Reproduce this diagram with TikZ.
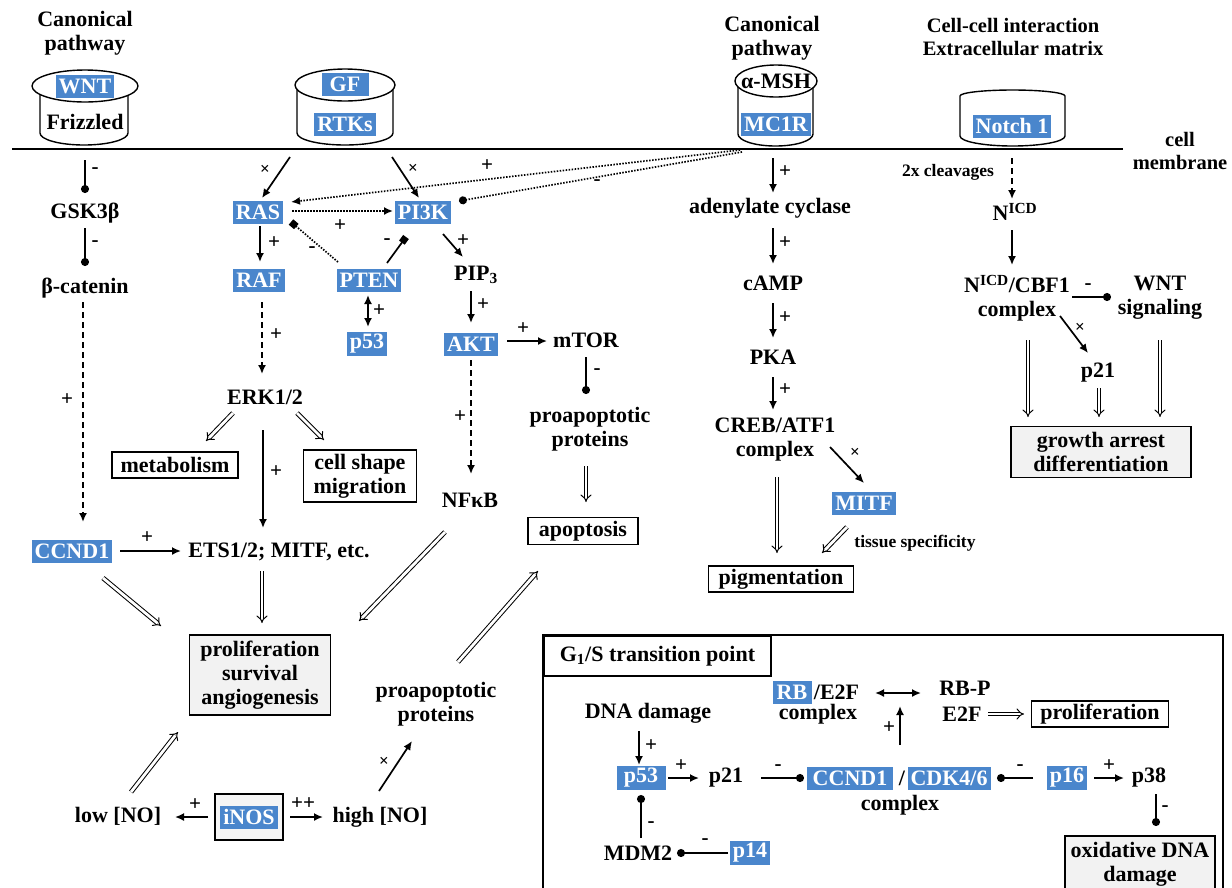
\documentclass[tikz,border=0pt]{standalone}
\usepackage{fontspec}
\setmainfont{Liberation Serif}
\usetikzlibrary{arrows.meta,calc}
\definecolor{bb}{RGB}{74,134,204}
\begin{document}
\begin{tikzpicture}[x=1pt,y=-1pt,
 txt/.style={font=\fontsize{22}{24}\selectfont\bfseries, inner sep=1pt, align=center},
 sml/.style={font=\fontsize{17.5}{20}\selectfont\bfseries, inner sep=1pt},
 lab/.style={font=\fontsize{21}{21}\selectfont\bfseries, inner sep=0pt},
 labx/.style={font=\fontsize{17}{17}\selectfont\bfseries, inner sep=0pt},
 bluebox/.style={txt, fill=bb, text=white, inner xsep=3pt, inner ysep=2pt, minimum height=23pt},
 obox/.style={txt, draw, line width=1.5pt, inner xsep=4pt, inner ysep=2pt, fill=white},
 gbox/.style={obox, fill=gray!10},
 shp/.style={line width=1.4pt, fill=white},
 actarr/.style={line width=1.7pt, -{Latex[length=9pt,width=8pt]}},
 dblarr/.style={line width=1.7pt, {Latex[length=9pt,width=8pt]}-{Latex[length=9pt,width=8pt]}},
 inharr/.style={line width=1.7pt, -{Circle[length=8pt]}},
 sqarr/.style={line width=1.7pt, -{Square[length=7pt,width=7pt]}},
 dotline/.style={line width=2pt, dash pattern=on 1.5pt off 1.5pt},
 dashline/.style={line width=1.7pt, dash pattern=on 6pt off 4pt},
 holarr/.style={double, double distance=2.8pt, line width=1pt, -{Implies[length=6pt]}},
]
\useasboundingbox (0,0) rectangle (1232,887);
\clip (0,0) rectangle (1232,887);
\fill[white] (0,0) rectangle (1232,887);

% membrane
\draw[line width=2.6pt] (12,149) -- (1123,149);

% receptors
\draw[shp] (40,86) -- (40,133) arc[start angle=180, end angle=0, x radius=44, y radius=12] -- (128,86);
\draw[shp] (85,86) ellipse[x radius=53, y radius=16];
\draw[shp] (297,85) -- (297,133) arc[start angle=180, end angle=0, x radius=48, y radius=12] -- (393,85);
\draw[shp] (345,85) ellipse[x radius=50, y radius=16];
\draw[shp] (738,81) -- (738,134) arc[start angle=180, end angle=0, x radius=37.5, y radius=12] -- (813,81);
\draw[shp] (776,81) ellipse[x radius=41, y radius=16];
\draw[shp] (960,96) arc[start angle=180, end angle=360, x radius=52.5, y radius=6]
  -- (1065,136) arc[start angle=0, end angle=180, x radius=52.5, y radius=10] -- cycle;

% top texts
\node[txt] (can1) at (85,33) {Canonical\\pathway};
\node[txt] (can2) at (772,38) {Canonical\\pathway};
\node[txt, font=\fontsize{20.5}{23}\selectfont\bfseries] (cci) at (1013,37) {Cell-cell interaction\\Extracellular matrix};
\node[txt, font=\fontsize{20.5}{23}\selectfont\bfseries] (memb) at (1180,151) {cell\\membrane};

\node[bluebox, minimum width=53pt] (wnt) at (85,86) {WNT};
\node[txt] (friz) at (85,122) {Frizzled};
\node[bluebox, minimum width=47pt] (gf) at (345,84) {GF};
\node[bluebox] (rtks) at (345,124) {RTKs};
\node[txt] (msh) at (776,81) {α-MSH};
\node[bluebox, minimum width=63pt] (mc1r) at (776,124) {MC1R};
\node[bluebox, minimum width=78pt] (notch) at (1012,126) {Notch 1};

% left column
\node[txt] (gsk) at (85,213) {GSK3β};
\node[txt] (bcat) at (85,288) {β-catenin};
\node[bluebox] (ccnd) at (72,551) {CCND1};
\node[txt] (ets) at (279,552) {ETS1/2; MITF, etc.};

% RAS / PI3K
\node[bluebox] (ras) at (258,212) {RAS};
\node[bluebox] (pi3k) at (423,212) {PI3K};
\node[bluebox] (raf) at (259,280) {RAF};
\node[bluebox] (pten) at (369,280) {PTEN};
\node[bluebox] (p53a) at (367,344) {p53};
\node[txt] (pip) at (476,275) {PIP\textsubscript{3}};
\node[bluebox] (akt) at (471,344) {AKT};
\node[txt] (mtor) at (586,340) {mTOR};
\node[txt] (proapo1) at (590,429) {proapoptotic\\proteins};
\node[obox, minimum width=110pt, minimum height=27pt] (apop) at (583,531) {apoptosis};
\node[txt] (nfkb) at (470,500) {NFκB};

\node[txt] (erk) at (265,397) {ERK1/2};
\node[obox, minimum width=126pt, minimum height=26pt] (metab) at (175,465) {metabolism};
\node[obox, minimum width=113pt, minimum height=52pt] (cshape) at (360,476) {cell shape\\migration};

\node[gbox, minimum width=141pt, minimum height=80pt] (prolif) at (260,675) {proliferation\\survival\\angiogenesis};
\node[txt] (proapo2) at (436,704) {proapoptotic\\proteins};
\node[txt] (low) at (118,816) {low [NO]};
\node[draw, line width=1.4pt, fill=gray!8, minimum width=68pt, minimum height=46pt, inner sep=0pt] (inosbox) at (249,817) {};
\node[bluebox] (inos) at (249,817) {iNOS};
\node[txt] (high) at (380,817) {high [NO]};

% cAMP column
\node[txt] (adcy) at (770,208) {adenylate cyclase};
\node[txt] (camp) at (773,283) {cAMP};
\node[txt] (pka) at (773,357) {PKA};
\node[txt] (creb) at (775,440) {CREB/ATF1\\complex};
\node[bluebox, minimum width=62pt] (mitf) at (864,503) {MITF};
\node[sml] (tissue) at (915,543) {tissue specificity};
\node[obox, minimum width=145pt, minimum height=26pt] (pigm) at (781,579) {pigmentation};

% Notch
\node[sml] (cleav) at (948,172) {2x cleavages};
\node[txt] (nicd) at (1015,212) {N\textsuperscript{ICD}};
\node[txt] (cbf) at (1017,298) {N\textsuperscript{ICD}/CBF1\\complex};
\node[txt] (wntsig) at (1160,298) {WNT\\signaling};
\node[txt] (p21a) at (1098,373) {p21};
\node[gbox, minimum width=180pt, minimum height=51pt] (growth) at (1101,452) {growth arrest\\differentiation};

% G1/S box
\draw[line width=2.5pt] (543,635) rectangle (1223,900);
\node[txt, draw, line width=2pt, anchor=north west, minimum width=227pt, minimum height=40pt, inner sep=0pt] (g1s) at (543,635) {G\textsubscript{1}/S transition point};
\node[bluebox, minimum width=39pt] (rb) at (792,692) {RB};
\node[txt, anchor=west] (e2fa) at ($(rb.east)+(1,0)$) {/E2F};
\node[txt] (cx1) at (818,714) {complex};
\node[txt] (rbp) at (965,688) {RB-P};
\node[txt] (e2fb) at (962,714) {E2F};
\node[obox, minimum width=137pt, minimum height=26pt] (prolif2) at (1100,714) {proliferation};
\node[txt] (dnad) at (648,713) {DNA damage};
\node[bluebox, minimum width=49pt] (p53b) at (641,778) {p53};
\node[txt] (p21b) at (726,778) {p21};
\node[bluebox, minimum width=86pt] (ccndb) at (850,778) {CCND1};
\node[txt] (slash) at (902,778) {/};
\node[bluebox, minimum width=78pt] (cdk) at (949,778) {CDK4/6};
\node[txt] (cx2) at (900,805) {complex};
\node[bluebox, minimum width=40pt] (p16) at (1067,778) {p16};
\node[txt] (p38) at (1149,778) {p38};
\node[gbox, minimum width=150pt, minimum height=56pt] (oxid) at (1140,864) {oxidative DNA\\damage};
\node[txt] (mdm2) at (638,853) {MDM2};
\node[bluebox, minimum width=39pt] (p14) at (750,853) {p14};

% ---------- connectors ----------
\draw[inharr] ($(friz)+(0,38)$) -- ($(gsk)+(0,-20)$);
\draw[inharr] ($(gsk)+(0,15)$) -- ($(bcat)+(0,-22)$);
\draw[dashline, actarr] ($(bcat)+(-2,14)$) -- ($(ccnd)+(11,-29)$);
\draw[actarr] ($(ccnd)+(48,0)$) -- ($(ets)+(-98,-1)$);
\draw[actarr] ($(rtks)+(-55,33)$) -- ($(ras)+(4,-14)$);
\draw[actarr] ($(rtks)+(47,33)$) -- ($(pi3k)+(-4,-14)$);
\draw[actarr] ($(ras)+(2,14)$) -- ($(raf)+(1,-18)$);
\draw[dotline, actarr] ($(ras)+(34,-1)$) -- ($(pi3k)+(-30,-1)$);
\draw[dotline, sqarr] ($(pten)+(-31,-18)$) -- ($(ras)+(33,10)$);
\draw[sqarr] ($(pten)+(18,-17)$) -- ($(pi3k)+(-17,25)$);
\draw[actarr] ($(pi3k)+(20,22)$) -- ($(pip)+(-13,-18)$);
\draw[dblarr] ($(pten)+(-1,15)$) -- ($(p53a)+(1,-17)$);
\draw[actarr] ($(pip)+(-5,16)$) -- ($(akt)+(0,-21)$);
\draw[actarr] ($(akt)+(36,-3)$) -- ($(mtor)+(-39,1)$);
\draw[inharr] ($(mtor)+(0,17)$) -- ($(proapo1)+(-4,-35)$);
\draw[holarr] ($(proapo1)+(-4,37)$) -- ($(apop)+(3,-29)$);
\draw[dashline, actarr] ($(akt)+(0,16)$) -- ($(nfkb)+(1,-26)$);
\draw[dotline, actarr] ($(mc1r)+(-36,26)$) -- ($(ras)+(33,-10)$);
\draw[dotline, inharr] ($(mc1r)+(-34,28)$) -- ($(pi3k)+(36,-11)$);
\draw[dashline, actarr] ($(raf)+(3,22)$) -- ($(erk)+(-3,-23)$);
\draw[holarr] ($(erk)+(-32,16)$) -- ($(metab)+(31,-24)$);
\draw[holarr] ($(erk)+(32,16)$) -- ($(cshape)+(-36,-36)$);
\draw[actarr] ($(erk)+(-2,33)$) -- ($(ets)+(-16,-24)$);
\draw[holarr] ($(ccnd)+(31,27)$) -- ($(prolif)+(-99,-49)$);
\draw[holarr] ($(ets)+(-17,19)$) -- ($(prolif)+(2,-52)$);
\draw[holarr] ($(nfkb)+(-25,32)$) -- ($(prolif)+(99,-54)$);
\draw[holarr] ($(proapo2)+(22,-42)$) -- ($(apop)+(-45,40)$);
\draw[holarr] ($(low)+(13,-24)$) -- ($(prolif)+(-82,57)$);
\draw[actarr] ($(inos)+(-41,0)$) -- ($(low)+(57,1)$);
\draw[actarr] ($(inos)+(41,0)$) -- ($(high)+(-57,0)$);
\draw[actarr] ($(high)+(-1,-26)$) -- ($(proapo2)+(-24,37)$);
\draw[actarr] ($(mc1r)+(-3,34)$) -- ($(adcy)+(3,-15)$);
\draw[actarr] ($(adcy)+(3,20)$) -- ($(camp)+(0,-19)$);
\draw[actarr] ($(camp)+(0,20)$) -- ($(pka)+(0,-19)$);
\draw[actarr] ($(pka)+(0,20)$) -- ($(creb)+(-2,-30)$);
\draw[holarr] ($(creb)+(2,37)$) -- ($(pigm)+(-4,-26)$);
\draw[actarr] ($(creb)+(55,7)$) -- ($(mitf)+(0,-20)$);
\draw[holarr] ($(mitf)+(-17,24)$) -- ($(pigm)+(41,-26)$);
\draw[dashline, actarr] ($(notch)+(0,32)$) -- ($(nicd)+(-3,-13)$);
\draw[actarr] ($(nicd)+(-3,18)$) -- ($(cbf)+(-5,-33)$);
\draw[inharr] ($(cbf)+(55,-1)$) -- ($(wntsig)+(-49,-1)$);
\draw[actarr] ($(cbf)+(43,18)$) -- ($(p21a)+(-10,-20)$);
\draw[holarr] ($(cbf)+(11,42)$) -- ($(growth)+(-73,-35)$);
\draw[holarr] ($(p21a)+(1,15)$) -- ($(growth)+(-2,-35)$);
\draw[holarr] ($(wntsig)+(0,42)$) -- ($(growth)+(59,-35)$);
\draw[dblarr] ($(rb)+(83,1)$) -- ($(rbp)+(-44,5)$);
\draw[holarr] ($(e2fb)+(26,0)$) -- ($(prolif2)+(-76,0)$);
\draw[actarr] ($(dnad)+(-9,18)$) -- ($(p53b)+(-2,-13)$);
\draw[actarr] ($(p53b)+(27,0)$) -- ($(p21b)+(-27,0)$);
\draw[inharr] ($(p21b)+(35,0)$) -- ($(ccndb)+(-46,0)$);
\draw[actarr] ($(cx2)+(0,-60)$) -- ($(cx1)+(82,-8)$);
\draw[inharr] ($(p16)+(-34,0)$) -- ($(cdk)+(48,0)$);
\draw[actarr] ($(p16)+(27,0)$) -- ($(p38)+(-25,0)$);
\draw[inharr] ($(p38)+(7,16)$) -- ($(oxid)+(16,-38)$);
\draw[inharr] ($(mdm2)+(3,-15)$) -- ($(p53b)+(0,17)$);
\draw[inharr] ($(p14)+(-22,0)$) -- ($(mdm2)+(39,0)$);

% ---------- labels ----------
\node[lab] (l1) at (95,171) {-};
\node[lab] (l2) at (95,244) {-};
\node[lab] (l3) at (67,400) {+};
\node[lab] (l4) at (147,538) {+};
\node[labx] (l5) at (265,170) {×};
\node[labx] (l6) at (413,169) {×};
\node[lab] (l7) at (274,243) {+};
\node[lab] (l8) at (340,226) {+};
\node[lab] (l9) at (312,250) {-};
\node[lab] (l10) at (387,242) {-};
\node[lab] (l11) at (463,241) {+};
\node[lab] (l12) at (379,311) {+};
\node[lab] (l13) at (483,305) {+};
\node[lab] (l14) at (523,329) {+};
\node[lab] (l15) at (597,372) {-};
\node[lab] (l16) at (460,417) {+};
\node[lab] (l17) at (487,166) {+};
\node[lab] (l18) at (597,183) {-};
\node[lab] (l19) at (276,335) {+};
\node[lab] (l20) at (276,472) {+};
\node[lab] (l21) at (195,805) {+};
\node[lab] (l22) at (303,804) {++};
\node[labx] (l23) at (384,762) {×};
\node[lab] (l24) at (785,172) {+};
\node[lab] (l25) at (785,243) {+};
\node[lab] (l26) at (785,318) {+};
\node[lab] (l27) at (785,390) {+};
\node[labx] (l28) at (855,453) {×};
\node[lab] (l29) at (1088,287) {-};
\node[labx] (l30) at (1080,328) {×};
\node[lab] (l31) at (651,746) {+};
\node[lab] (l32) at (681,766) {+};
\node[lab] (l33) at (778,768) {-};
\node[lab] (l34) at (889,728) {+};
\node[lab] (l35) at (1020,768) {-};
\node[lab] (l36) at (1109,766) {+};
\node[lab] (l37) at (1165,809) {-};
\node[lab] (l38) at (651,825) {-};
\node[lab] (l39) at (705,842) {-};
\end{tikzpicture}
\end{document}
